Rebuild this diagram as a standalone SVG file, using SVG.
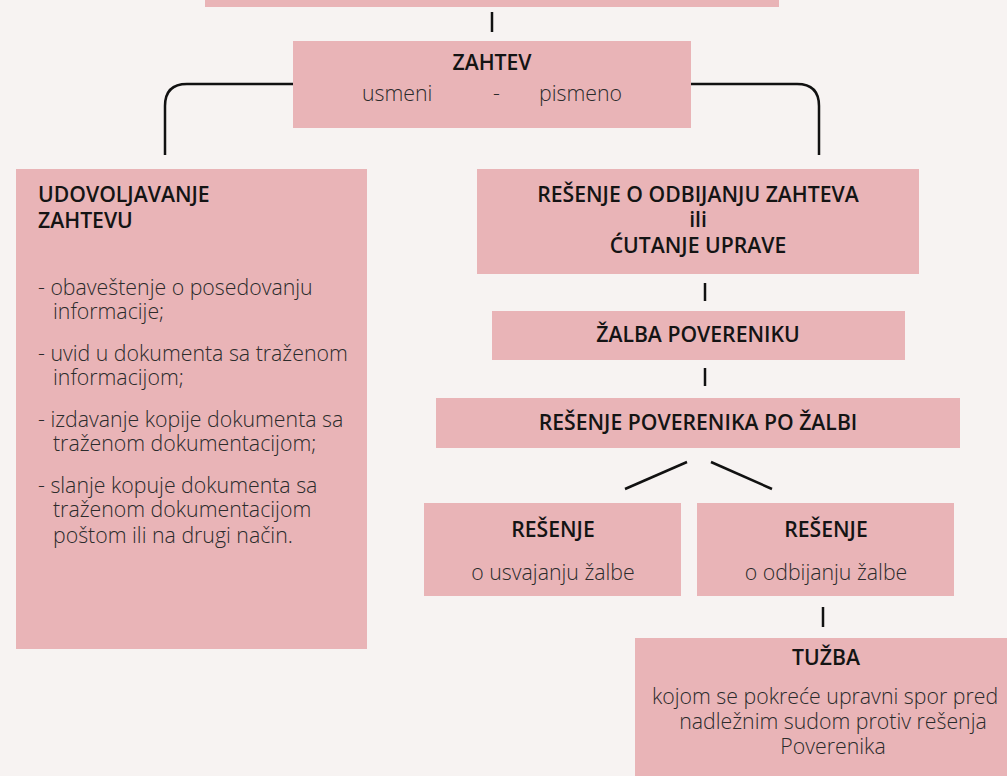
<svg xmlns="http://www.w3.org/2000/svg" width="1007" height="776" viewBox="0 0 1007 776">
<style>
.box{fill:#e9b4b7}
.h{font-family:"Open Sans","Liberation Sans",sans-serif;font-weight:600;font-size:21.2px;fill:#141414}
.b{font-family:"Open Sans","Liberation Sans",sans-serif;font-weight:300;font-size:21.3px;fill:#2b2b2b}
.c{text-anchor:middle}
.ln{fill:none;stroke:#111;stroke-width:2.5;stroke-linecap:butt}
</style>
<rect width="1007" height="776" fill="#f7f3f2"/>
<g id="connectors">
<line class="ln" x1="492" y1="12" x2="492" y2="32"/>
<path class="ln" d="M293 84 H187 Q165 84 165 106 V155"/>
<path class="ln" d="M691 84 H797 Q819 84 819 106 V155"/>
<line class="ln" x1="705" y1="283" x2="705" y2="301"/>
<line class="ln" x1="705" y1="368" x2="705" y2="386"/>
<line class="ln" x1="625" y1="489" x2="687" y2="462"/>
<line class="ln" x1="711" y1="462" x2="772" y2="489"/>
<line class="ln" x1="823" y1="607" x2="823" y2="627"/>
</g>
<g id="top">
<rect class="box" x="205" y="0" width="574" height="7"/>
</g>
<g id="zahtev">
<rect class="box" x="293" y="41" width="398" height="87"/>
<text class="h c" x="492" y="70">ZAHTEV</text>
<text class="b" x="362" y="101">usmeni</text>
<text class="b" x="493" y="101">-</text>
<text class="b" x="539" y="101">pismeno</text>
</g>
<g id="udovoljavanje">
<rect class="box" x="16" y="169" width="351" height="480"/>
<text class="h" x="38" y="202">UDOVOLJAVANJE</text>
<text class="h" x="38" y="228">ZAHTEVU</text>
<text class="b" x="38" y="295">- obaveštenje o posedovanju</text>
<text class="b" x="53" y="319">informacije;</text>
<text class="b" x="38" y="361">- uvid u dokumenta sa traženom</text>
<text class="b" x="53" y="385">informacijom;</text>
<text class="b" x="38" y="427">- izdavanje kopije dokumenta sa</text>
<text class="b" x="53" y="451">traženom dokumentacijom;</text>
<text class="b" x="38" y="493">- slanje kopuje dokumenta sa</text>
<text class="b" x="53" y="517">traženom dokumentacijom</text>
<text class="b" x="53" y="543">poštom ili na drugi način.</text>
</g>
<g id="odbijanje">
<rect class="box" x="477" y="169" width="442" height="105"/>
<text class="h c" x="698" y="202">REŠENJE O ODBIJANJU ZAHTEVA</text>
<text class="h c" x="698" y="227">ili</text>
<text class="h c" x="698" y="253">ĆUTANJE UPRAVE</text>
</g>
<g id="zalba">
<rect class="box" x="492" y="311" width="413" height="49"/>
<text class="h c" x="698" y="342">ŽALBA POVERENIKU</text>
</g>
<g id="resenje-poverenika">
<rect class="box" x="436" y="398" width="524" height="50"/>
<text class="h c" x="698" y="430">REŠENJE POVERENIKA PO ŽALBI</text>
</g>
<g id="usvajanje">
<rect class="box" x="424" y="503" width="257" height="93"/>
<text class="h c" x="553" y="537">REŠENJE</text>
<text class="b c" x="553" y="580">o usvajanju žalbe</text>
</g>
<g id="odbijanje-zalbe">
<rect class="box" x="697" y="503" width="257" height="93"/>
<text class="h c" x="826" y="537">REŠENJE</text>
<text class="b c" x="826" y="580">o odbijanju žalbe</text>
</g>
<g id="tuzba">
<rect class="box" x="635" y="638" width="380" height="140"/>
<text class="h c" x="826" y="665">TUŽBA</text>
<text class="b c" x="825" y="704">kojom se pokreće upravni spor pred</text>
<text class="b c" x="833" y="729">nadležnim sudom protiv rešenja</text>
<text class="b c" x="833" y="754">Poverenika</text>
</g>
</svg>
